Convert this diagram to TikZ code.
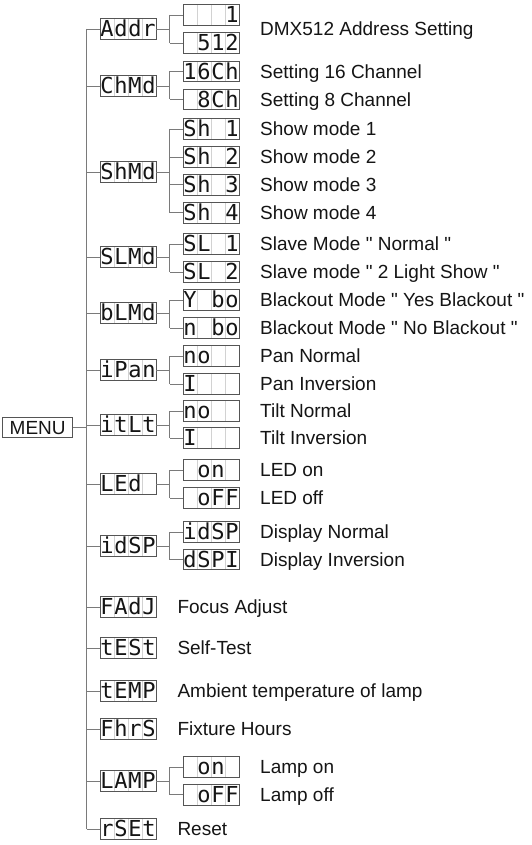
\documentclass[tikz,border=0pt]{standalone}
\usepackage{fontspec}
\setmainfont{Liberation Sans}
\newfontfamily\lblfont{Liberation Sans}
\newfontfamily\segfont{DejaVu Sans Mono}
\definecolor{linecol}{HTML}{7A7A7A}
\definecolor{boxcol}{HTML}{555555}
\definecolor{sepcol}{HTML}{D2D2D2}
\definecolor{textcol}{HTML}{151515}
\newcommand{\sg}[4]{\segfont\fontsize{22}{22}\selectfont\makebox[14pt]{#1}\makebox[14pt]{#2}\makebox[14pt]{#3}\makebox[14pt]{#4}}
\newcommand{\branch}[4]{%
  \draw[conn] (#1.east) -- ++(13.3,0) coordinate (#1j);
  \draw[conn] (#2.west -| #1j) -- (#3.west -| #1j);
  \foreach \k in {#4} {\draw[conn] (\k.west -| #1j) -- (\k.west);}
}
\tikzset{
  conn/.style={draw=linecol, line width=0.9pt},
  disp/.style={draw=boxcol, line width=0.9pt, minimum width=56pt, minimum height=20.5pt,
    inner sep=0pt, text height=15.5pt, text depth=0pt, text=textcol,
    path picture={\foreach \s in {1,2,3}
      \draw[sepcol, line width=0.8pt] ([xshift=\s*14pt]path picture bounding box.north west) -- ([xshift=\s*14pt]path picture bounding box.south west);}},
  lbl/.style={anchor=west, inner sep=0pt, text height=13.6pt, text depth=0pt,
    font=\lblfont\fontsize{19}{19}\selectfont, text=textcol},
}
\begin{document}
\begin{tikzpicture}[x=1pt,y=-1pt]
\useasboundingbox (0,0) rectangle (532,845);
\fill[white] (0,0) rectangle (532,845);
% menu
\node[draw=boxcol, line width=0.9pt, minimum width=70pt, minimum height=20pt, inner sep=0pt,
  text height=13.6pt, text depth=0pt, font=\lblfont\fontsize{19}{19}\selectfont, text=textcol] (menu) at (37.7,427.3) {MENU};
% level 1
\node[disp] (addr) at (128,29) {\sg{A}{d}{d}{r}};
\node[disp] (chmd) at (128,86) {\sg{C}{h}{M}{d}};
\node[disp] (shmd) at (128,172) {\sg{S}{h}{M}{d}};
\node[disp] (slmd) at (128,257) {\sg{S}{L}{M}{d}};
\node[disp] (blmd) at (128,313) {\sg{b}{L}{M}{d}};
\node[disp] (ipan) at (128,370) {\sg{i}{P}{a}{n}};
\node[disp] (itlt) at (128,425) {\sg{i}{t}{L}{t}};
\node[disp] (led) at (128,484) {\sg{L}{E}{d}{}};
\node[disp] (idsp) at (128,546) {\sg{i}{d}{S}{P}};
\node[disp] (fadj) at (128,607) {\sg{F}{A}{d}{J}};
\node[disp] (test) at (128,648) {\sg{t}{E}{S}{t}};
\node[disp] (temp) at (128,691) {\sg{t}{E}{M}{P}};
\node[disp] (fhrs) at (128,729) {\sg{F}{h}{r}{S}};
\node[disp] (lamp) at (128,781) {\sg{L}{A}{M}{P}};
\node[disp] (rset) at (128,829) {\sg{r}{S}{E}{t}};
% level 2
\node[disp] (a1) at (211,15) {\sg{}{}{}{1}};
\node[disp] (a2) at (211,43) {\sg{}{5}{1}{2}};
\node[disp] (c1) at (211,71.5) {\sg{1}{6}{C}{h}};
\node[disp] (c2) at (211,99.5) {\sg{}{8}{C}{h}};
\node[disp] (s1) at (211,129) {\sg{S}{h}{}{1}};
\node[disp] (s2) at (211,157) {\sg{S}{h}{}{2}};
\node[disp] (s3) at (211,184.7) {\sg{S}{h}{}{3}};
\node[disp] (s4) at (211,212.7) {\sg{S}{h}{}{4}};
\node[disp] (sl1) at (211,244) {\sg{S}{L}{}{1}};
\node[disp] (sl2) at (211,272) {\sg{S}{L}{}{2}};
\node[disp] (b1) at (211,300) {\sg{Y}{}{b}{o}};
\node[disp] (b2) at (211,328) {\sg{n}{}{b}{o}};
\node[disp] (p1) at (211,356) {\sg{n}{o}{}{}};
\node[disp] (p2) at (211,384) {\sg{I}{}{}{}};
\node[disp] (t1) at (211,411) {\sg{n}{o}{}{}};
\node[disp] (t2) at (211,438) {\sg{I}{}{}{}};
\node[disp] (l1) at (211,470) {\sg{}{o}{n}{}};
\node[disp] (l2) at (211,498) {\sg{}{o}{F}{F}};
\node[disp] (d1) at (211,532) {\sg{i}{d}{S}{P}};
\node[disp] (d2) at (211,559.5) {\sg{d}{S}{P}{I}};
\node[disp] (m1) at (211,767) {\sg{}{o}{n}{}};
\node[disp] (m2) at (211,794.7) {\sg{}{o}{F}{F}};
% connectors
\coordinate (trunk) at (86.7,0);
\draw[conn] (menu.east) -- (menu.east -| trunk);
\draw[conn] (addr.west -| trunk) -- (rset.west -| trunk);
\foreach \n in {addr,chmd,shmd,slmd,blmd,ipan,itlt,led,idsp,fadj,test,temp,fhrs,lamp,rset}
  \draw[conn] (\n.west -| trunk) -- (\n.west);
\branch{addr}{a1}{a2}{a1,a2}
\branch{chmd}{c1}{c2}{c1,c2}
\branch{shmd}{s1}{s4}{s1,s2,s3,s4}
\branch{slmd}{sl1}{sl2}{sl1,sl2}
\branch{blmd}{b1}{b2}{b1,b2}
\branch{ipan}{p1}{p2}{p1,p2}
\branch{itlt}{t1}{t2}{t1,t2}
\branch{led}{l1}{l2}{l1,l2}
\branch{idsp}{d1}{d2}{d1,d2}
\branch{lamp}{m1}{m2}{m1,m2}
% labels
\node[lbl] (la) at (260,29) {DMX512 Address Setting};
\node[lbl] (lc1) at (260,71.5) {Setting 16 Channel};
\node[lbl] (lc2) at (260,99.5) {Setting 8 Channel};
\node[lbl] (ls1) at (260,129) {Show mode 1};
\node[lbl] (ls2) at (260,157) {Show mode 2};
\node[lbl] (ls3) at (260,184.7) {Show mode 3};
\node[lbl] (ls4) at (260,212.7) {Show mode 4};
\node[lbl] (lsl1) at (260,244) {Slave Mode " Normal "};
\node[lbl] (lsl2) at (260,272) {Slave mode " 2 Light Show "};
\node[lbl] (lb1) at (260,300) {Blackout Mode " Yes Blackout "};
\node[lbl] (lb2) at (260,328) {Blackout Mode " No Blackout "};
\node[lbl] (lp1) at (260,356) {Pan Normal};
\node[lbl] (lp2) at (260,384) {Pan Inversion};
\node[lbl] (lt1) at (260,411) {Tilt Normal};
\node[lbl] (lt2) at (260,438) {Tilt Inversion};
\node[lbl] (ll1) at (260,470) {LED on};
\node[lbl] (ll2) at (260,498) {LED off};
\node[lbl] (ld1) at (260,532) {Display Normal};
\node[lbl] (ld2) at (260,559.5) {Display Inversion};
\node[lbl] (lfa) at (177.3,607) {Focus Adjust};
\node[lbl] (lte) at (177.3,648) {Self-Test};
\node[lbl] (ltm) at (177.3,691) {Ambient temperature of lamp};
\node[lbl] (lfh) at (177.3,729) {Fixture Hours};
\node[lbl] (lm1) at (260,767) {Lamp on};
\node[lbl] (lm2) at (260,794.7) {Lamp off};
\node[lbl] (lrs) at (177.3,829) {Reset};
\end{tikzpicture}
\end{document}
